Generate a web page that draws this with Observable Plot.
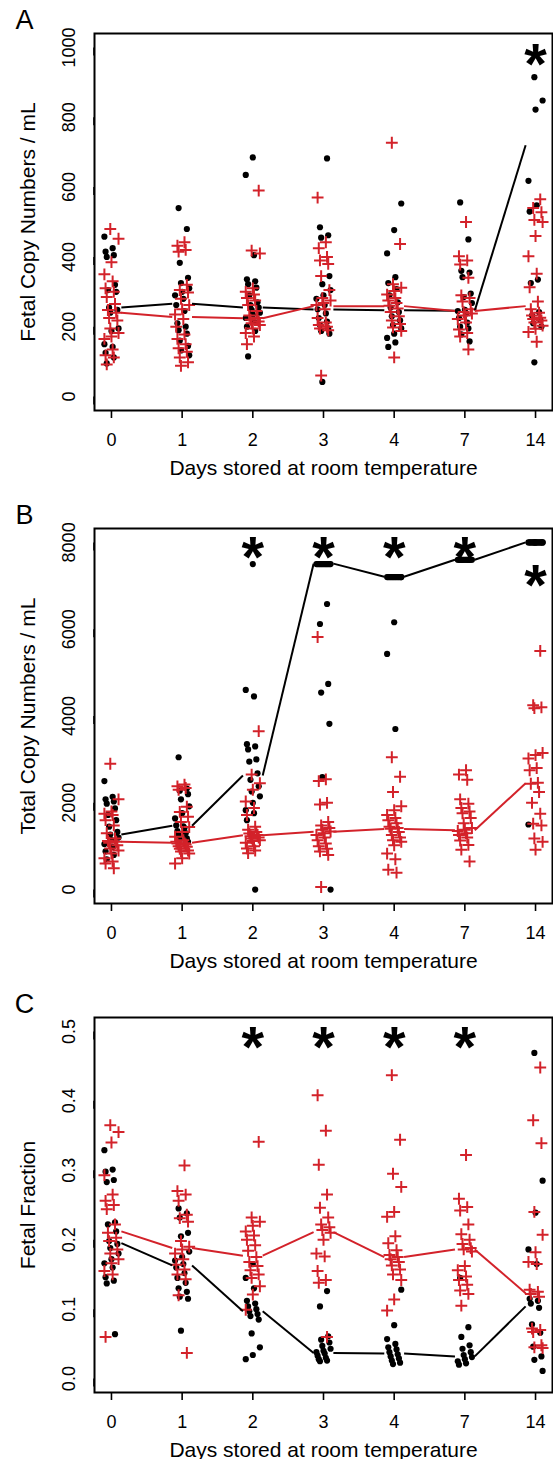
<!DOCTYPE html>
<html><head><meta charset="utf-8">
<script src="https://cdn.jsdelivr.net/npm/d3@7"></script>
<script src="https://cdn.jsdelivr.net/npm/@observablehq/plot@0.6"></script>
<style>
html,body{margin:0;padding:0;background:#fff;}
#chart svg{display:block;}
</style></head><body><div id="chart"></div>
<script>
// ---------- shared ----------
const dayLabels = ["0", "1", "2", "3", "4", "7", "14"];
const xLabel = "Days stored at room temperature";

// ---------- Panel A: fetal copy numbers / mL ----------
const fetalBlack = [
  [458, 425, 415, 405, 400, 320, 305, 300, 255, 248, 240, 195, 188, 150, 142, 125, 112, 95],
  [540, 480, 383, 340, 325, 310, 300, 290, 280, 262, 245, 210, 200, 190, 180, 160, 145, 132, 118],
  [685, 635, 405, 336, 330, 322, 312, 290, 270, 262, 255, 248, 240, 235, 225, 215, 200, 188, 115],
  [682, 485, 462, 455, 345, 322, 305, 290, 280, 262, 250, 238, 225, 215, 205, 195, 188, 180, 42],
  [553, 477, 410, 342, 325, 308, 290, 270, 255, 242, 230, 218, 205, 195, 180, 168, 155, 142],
  [556, 450, 360, 355, 342, 295, 285, 268, 248, 245, 238, 225, 212, 200, 195, 178, 158],
  [915, 848, 822, 618, 548, 530, 335, 325, 242, 232, 220, 210, 200, 98]
];
const fetalRed = [
  [480, 452, 385, 350, 330, 310, 300, 285, 265, 248, 240, 225, 218, 195, 182, 172, 165, 135, 118, 112, 92],
  [442, 432, 420, 415, 320, 305, 298, 280, 262, 250, 235, 222, 200, 178, 165, 150, 138, 128, 112, 98, 88],
  [590, 418, 410, 310, 300, 292, 282, 275, 262, 245, 232, 225, 220, 215, 210, 205, 195, 182, 172, 150],
  [570, 442, 425, 400, 390, 380, 345, 305, 282, 275, 268, 262, 250, 225, 212, 205, 200, 195, 190, 60],
  [727, 437, 322, 312, 302, 292, 282, 275, 268, 260, 252, 242, 230, 218, 208, 198, 188, 112],
  [500, 402, 390, 378, 340, 290, 282, 272, 250, 242, 238, 232, 222, 212, 192, 182, 172, 135],
  [565, 540, 528, 506, 500, 460, 402, 352, 313, 272, 250, 240, 232, 226, 222, 218, 212, 203, 194, 185, 157]
];
const fetalBlackMedian = [255, 266, 255, 249, 247, 246, 720];
const fetalRedMedian = [240, 228, 224, 259, 259, 245, 259];
const fetalStars = [{day: 7, value: 988}];
const fetalTicks = [0, 200, 400, 600, 800, 1000];

// ---------- Panel B: total copy numbers / mL ----------
const totalBlack = [
  [2500, 2140, 2080, 2030, 1980, 1870, 1720, 1600, 1450, 1330, 1270, 1200, 1140, 1050, 980, 880, 800, 700],
  [3050, 2330, 2280, 2200, 2080, 1920, 1760, 1640, 1460, 1480, 1420, 1350, 1300, 1250, 1180, 1150, 1100],
  [7500, 4600, 4450, 3350, 3300, 3230, 3000, 2950, 2680, 2530, 2380, 2260, 2150, 2000, 1830, 1760, 1600, 0],
  [7500, 7500, 7500, 7500, 7500, 7500, 7500, 7500, 7500, 7500, 7500, 7500, 7500, 6580, 6120, 4740, 4540, 3820, 2590, 0],
  [7200, 7200, 7200, 7200, 7200, 7200, 7200, 7200, 7200, 7200, 7200, 7200, 7200, 7200, 6160, 5430, 3700],
  [7600, 7600, 7600, 7600, 7600, 7600, 7600, 7600, 7600, 7600, 7600, 7600, 7600, 7600, 7600, 7600],
  [8000, 8000, 8000, 8000, 8000, 8000, 8000, 8000, 8000, 8000, 8000, 8000, 8000, 8000, 8000, 8000, 1500]
];
const totalRed = [
  [2900, 2080, 1800, 1750, 1720, 1600, 1480, 1300, 1180, 1120, 1100, 1080, 1020, 950, 900, 830, 720, 650, 600, 490],
  [2420, 2380, 2340, 2300, 1910, 1790, 1680, 1560, 1440, 1330, 1220, 1140, 1100, 1070, 1060, 1040, 1000, 990, 940, 900, 880, 830, 720, 600],
  [3650, 2650, 2450, 2300, 2030, 1880, 1720, 1450, 1380, 1330, 1290, 1260, 1230, 1200, 1180, 1140, 1120, 1080, 1000, 950, 900, 840],
  [5820, 2540, 2500, 2000, 1960, 1560, 1480, 1420, 1380, 1340, 1300, 1260, 1200, 1140, 1060, 1000, 940, 880, 800, 60],
  [3050, 2600, 2250, 1920, 1830, 1720, 1650, 1600, 1530, 1450, 1420, 1400, 1330, 1260, 1200, 1140, 1100, 1020, 830, 700, 460, 390],
  [2750, 2650, 2530, 2080, 1980, 1880, 1800, 1760, 1650, 1530, 1420, 1380, 1350, 1300, 1260, 1200, 1130, 1030, 920, 650],
  [5500, 4250, 4200, 4180, 3150, 3100, 3020, 2800, 2750, 2460, 2440, 2250, 2000, 1750, 1520, 1480, 1180, 1100, 920]
];
const totalBlackMedian = [1270, 1470, 2630, 7510, 7210, 7600, 8000];
const totalRedMedian = [1100, 1080, 1255, 1335, 1395, 1370, 2450];
const totalStars = [{day: 3, value: 7950}, {day: 4, value: 7950}, {day: 5, value: 7950}, {day: 6, value: 7950}, {day: 7, value: 7300}];
const totalTicks = [0, 2000, 4000, 6000, 8000];

// ---------- Panel C: fetal fraction ----------
const fracBlack = [
  [0.329, 0.301, 0.298, 0.286, 0.283, 0.225, 0.222, 0.212, 0.198, 0.194, 0.188, 0.18, 0.172, 0.166, 0.16, 0.146, 0.141, 0.137, 0.064],
  [0.245, 0.238, 0.232, 0.21, 0.205, 0.183, 0.175, 0.17, 0.165, 0.16, 0.152, 0.145, 0.138, 0.13, 0.125, 0.118, 0.115, 0.069],
  [0.165, 0.145, 0.13, 0.112, 0.108, 0.104, 0.1, 0.097, 0.093, 0.09, 0.085, 0.065, 0.045, 0.034, 0.028],
  [0.126, 0.104, 0.061, 0.056, 0.052, 0.047, 0.043, 0.04, 0.038, 0.036, 0.033, 0.03, 0.028, 0.026, 0.025],
  [0.128, 0.077, 0.057, 0.05, 0.045, 0.042, 0.038, 0.035, 0.032, 0.029, 0.026, 0.023, 0.021],
  [0.145, 0.074, 0.06, 0.048, 0.043, 0.038, 0.034, 0.031, 0.028, 0.025, 0.022, 0.02],
  [0.469, 0.285, 0.239, 0.186, 0.165, 0.115, 0.112, 0.108, 0.102, 0.078, 0.066, 0.046, 0.032, 0.027, 0.011]
];
const fracRed = [
  [0.365, 0.355, 0.34, 0.293, 0.265, 0.256, 0.25, 0.244, 0.222, 0.21, 0.203, 0.198, 0.186, 0.18, 0.172, 0.166, 0.155, 0.15, 0.06],
  [0.307, 0.27, 0.265, 0.256, 0.236, 0.231, 0.226, 0.198, 0.19, 0.186, 0.18, 0.172, 0.164, 0.157, 0.15, 0.143, 0.12, 0.037],
  [0.341, 0.232, 0.226, 0.22, 0.212, 0.206, 0.2, 0.192, 0.184, 0.175, 0.168, 0.162, 0.156, 0.15, 0.145, 0.133, 0.121, 0.099],
  [0.408, 0.357, 0.308, 0.265, 0.246, 0.232, 0.222, 0.218, 0.214, 0.21, 0.2, 0.18, 0.176, 0.155, 0.142, 0.138, 0.06],
  [0.437, 0.344, 0.295, 0.276, 0.24, 0.233, 0.205, 0.195, 0.185, 0.178, 0.175, 0.172, 0.168, 0.163, 0.157, 0.15, 0.142, 0.114, 0.098],
  [0.322, 0.259, 0.247, 0.242, 0.222, 0.208, 0.2, 0.194, 0.188, 0.186, 0.183, 0.162, 0.156, 0.147, 0.142, 0.135, 0.127, 0.122, 0.105],
  [0.448, 0.372, 0.339, 0.24, 0.207, 0.182, 0.168, 0.165, 0.128, 0.125, 0.122, 0.118, 0.072, 0.07, 0.067, 0.048, 0.045, 0.044]
];
const fracBlackMedian = [0.195, 0.163, 0.097, 0.037, 0.036, 0.032, 0.104];
const fracRedMedian = [0.212, 0.188, 0.177, 0.211, 0.175, 0.186, 0.123];
const fracStars = [{day: 3, value: 0.495}, {day: 4, value: 0.495}, {day: 5, value: 0.495}, {day: 6, value: 0.495}];
const fracTicks = [0, 0.1, 0.2, 0.3, 0.4, 0.5];

// ---------- drawing ----------
const RED = "#d3222a";
const FONT = "'Liberation Sans', Arial, Helvetica, sans-serif";
const GAP = 0.14;

function jit(j, d, s) {
  return (((j * 7 + d * 3 + s * 5) % 13) / 12 - 0.5) * 0.2;
}

function panel(o) {
  const ptsB = [], ptsR = [];
  o.black.forEach((vals, d) => vals.forEach((v, j) => ptsB.push({x: d + 1 + jit(j, d, 0), y: v})));
  o.red.forEach((vals, d) => vals.forEach((v, j) => ptsR.push({x: d + 1 + jit(j, d, 1), y: v})));
  const segs = (med) => med.slice(0, -1).map((m, i) => ({x1: i + 1 + GAP, y1: m, x2: i + 2 - GAP, y2: med[i + 1]}));
  return Plot.plot({
    width: 553, height: o.height,
    marginLeft: 94, marginRight: 1, marginTop: o.marginTop, marginBottom: o.marginBottom,
    x: {domain: [0.76, 7.24]},
    y: {domain: o.yDomain},
    style: {fontFamily: FONT, background: "white", overflow: "visible", color: "black"},
    marks: [
      Plot.axisX({ticks: [1, 2, 3, 4, 5, 6, 7], tickFormat: (d) => dayLabels[d - 1], tickSize: 8, tickPadding: 15, fontSize: 18, strokeWidth: 1.6, label: null}),
      Plot.axisY({ticks: o.yTicks, tickFormat: o.yFormat, tickSize: 8, tickPadding: 12, fontSize: 18, rotate: -90, textAnchor: "middle", lineAnchor: "bottom", strokeWidth: 1.6, label: null}),
      Plot.dot(ptsB, {x: "x", y: "y", r: 3.1, fill: "black", stroke: "none"}),
      Plot.dot(ptsR, {x: "x", y: "y", r: 3.9, symbol: "plus", stroke: RED, strokeWidth: 2}),
      Plot.link(segs(o.medBlack), {x1: "x1", y1: "y1", x2: "x2", y2: "y2", stroke: "black", strokeWidth: 2}),
      Plot.link(segs(o.medRed), {x1: "x1", y1: "y1", x2: "x2", y2: "y2", stroke: RED, strokeWidth: 2}),
      Plot.text(o.stars, {x: "day", y: "value", text: () => "*", fontSize: 58, fontWeight: "bold", dy: 14, fill: "black"}),
      Plot.frame({stroke: "black", strokeWidth: 2}),
      Plot.text([o.yLabel], {frameAnchor: "left", rotate: -90, dx: -66, fontSize: 21, textAnchor: "middle", lineAnchor: "middle"}),
      Plot.text([xLabel], {frameAnchor: "bottom", dy: 58, fontSize: 21, textAnchor: "middle", lineAnchor: "middle"}),
      Plot.text([o.letter], {frameAnchor: "top-left", dx: -70, dy: -13, fontSize: 27, textAnchor: "middle", lineAnchor: "middle"})
    ]
  });
}

const chart = document.getElementById("chart");
chart.appendChild(panel({
  black: fetalBlack, red: fetalRed, medBlack: fetalBlackMedian, medRed: fetalRedMedian, stars: fetalStars,
  yDomain: [-40, 1040], yTicks: fetalTicks, yFormat: (d) => String(d), yLabel: "Fetal Copy Numbers / mL", letter: "A",
  height: 490, marginTop: 33, marginBottom: 80
}));
chart.appendChild(panel({
  black: totalBlack, red: totalRed, medBlack: totalBlackMedian, medRed: totalRedMedian, stars: totalStars,
  yDomain: [-320, 8320], yTicks: totalTicks, yFormat: (d) => String(d), yLabel: "Total Copy Numbers / mL", letter: "B",
  height: 490, marginTop: 38, marginBottom: 77
}));
chart.appendChild(panel({
  black: fracBlack, red: fracRed, medBlack: fracBlackMedian, medRed: fracRedMedian, stars: fracStars,
  yDomain: [-0.02, 0.52], yTicks: fracTicks, yFormat: (d) => d.toFixed(1), yLabel: "Fetal Fraction", letter: "C",
  height: 479, marginTop: 37, marginBottom: 67
}));
</script></body></html>
